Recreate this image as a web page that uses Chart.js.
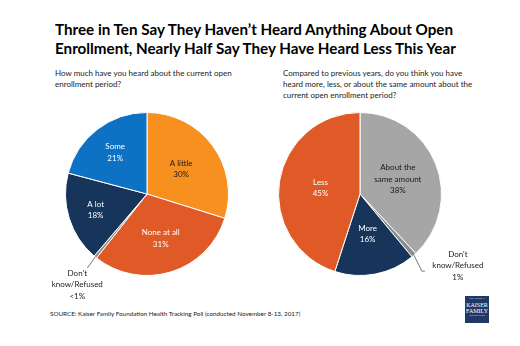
<!DOCTYPE html>
<html>
<head>
<meta charset="utf-8">
<script src="https://cdn.jsdelivr.net/npm/chart.js@4.4.1/dist/chart.umd.min.js"></script>
<style>
  html, body { margin: 0; padding: 0; background: #fff; }
  #wrap { position: relative; width: 520px; height: 346px; overflow: hidden; font-family: Lato, sans-serif; color: #1a1a1a; }
  .title { position: absolute; left: 55px; top: 20px; font-size: 15.2px; font-weight: bold; line-height: 19px; color: #000; white-space: nowrap; }
  .sub { position: absolute; top: 68px; font-size: 8px; line-height: 11px; color: #222; white-space: nowrap; }
  .source { position: absolute; left: 50px; top: 310px; font-size: 6.3px; color: #222; white-space: nowrap; }
  .logo { position: absolute; left: 465px; top: 296px; width: 24px; height: 27px; background: #1f3866; color: #fff; font-family: "Liberation Serif", serif; text-align: center; }
  .logo div { line-height: 1; }
  canvas { position: absolute; }
</style>
</head>
<body>
<div id="wrap">
  <div class="title">Three in Ten Say They Haven’t Heard Anything About Open<br>Enrollment, Nearly Half Say They Have Heard Less This Year</div>
  <div class="sub" style="left:55px">How much have you heard about the current open<br>enrollment period?</div>
  <div class="sub" style="left:283px">Compared to previous years, do you think you have<br>heard more, less, or about the same amount about the<br>current open enrollment period?</div>
  <div class="source">SOURCE: Kaiser Family Foundation Health Tracking Poll (conducted November 8-13, 2017)</div>
  <div class="logo">
    <div style="font-size:2.5px;padding-top:2px">THE HENRY J.</div>
    <div style="font-size:6px;margin-top:1px">KAISER</div>
    <div style="font-size:6px">FAMILY</div>
    <div style="font-size:2.5px;margin-top:1px">FOUNDATION</div>
  </div>
  <div style="position:absolute;left:0;top:100px;width:260px;height:210px"><canvas id="left"></canvas></div>
  <div style="position:absolute;left:260px;top:100px;width:260px;height:210px"><canvas id="right"></canvas></div>
</div>
<script>
// left pie: how much heard
const heardLabels = ['A little', 'None at all', "Don't know/Refused", 'A lot', 'Some'];
const heardShown = [['A little', '30%'], ['None at all', '31%'], ["Don't", 'know/Refused', '<1%'], ['A lot', '18%'], ['Some', '21%']];
const heardValues = [30, 31, 0.6, 18, 21];

// right pie: compared to previous years
const compLabels = ['About the same amount', "Don't know/Refused", 'More', 'Less'];
const compShown = [['About the', 'same amount', '38%'], ["Don't", 'know/Refused', '1%'], ['More', '16%'], ['Less', '45%']];
const compValues = [38, 1, 16, 45];

const sliceLabels = {
  id: 'sliceLabels',
  afterDatasetsDraw(chart, args, opts) {
    const ctx = chart.ctx;
    const meta = chart.getDatasetMeta(0);
    ctx.save();
    ctx.font = '8px Lato, sans-serif';
    ctx.textAlign = 'center';
    ctx.textBaseline = 'middle';
    meta.data.forEach((arc, i) => {
      const p = arc.getProps(['x', 'y', 'startAngle', 'endAngle', 'outerRadius']);
      const mid = (p.startAngle + p.endAngle) / 2;
      const lines = opts.text[i];
      if (opts.outside === i) {
        const ex = p.x + Math.cos(mid) * p.outerRadius;
        const ey = p.y + Math.sin(mid) * p.outerRadius;
        const o = opts.leader;
        ctx.strokeStyle = '#555';
        ctx.lineWidth = 0.8;
        ctx.beginPath();
        ctx.moveTo(ex, ey);
        ctx.lineTo(ex + o[0], ey + o[1]);
        if (o[4]) ctx.lineTo(ex + o[0] + o[4], ey + o[1]);
        ctx.stroke();
        ctx.fillStyle = '#222';
        lines.forEach((t, k) => ctx.fillText(t, ex + o[2], ey + o[3] + k * 11.5));
        return;
      }
      const r = p.outerRadius * opts.factor[i];
      const cx = p.x + Math.cos(mid) * r;
      const cy = p.y + Math.sin(mid) * r;
      ctx.fillStyle = opts.colors[i];
      const h = (lines.length - 1) * 11.5;
      lines.forEach((t, k) => ctx.fillText(t, cx, cy - h / 2 + k * 11.5));
    });
    ctx.restore();
  }
};

function makePie(id, labels, values, colors, pad, labelOpts) {
  return new Chart(document.getElementById(id), {
    type: 'pie',
    data: {
      labels: labels,
      datasets: [{
        data: values,
        backgroundColor: colors,
        borderColor: '#ffffff',
        borderWidth: 1
      }]
    },
    options: {
      responsive: true,
      maintainAspectRatio: false,
      animation: false,
      layout: { padding: pad },
      plugins: {
        legend: { display: false },
        tooltip: { enabled: false },
        sliceLabels: labelOpts
      }
    },
    plugins: [sliceLabels]
  });
}

makePie('left', heardLabels, heardValues,
  ['#f7901e', '#e05a27', '#8c8c8c', '#17345b', '#0e72c4'],
  { left: 65, right: 31, top: 12, bottom: 34 },
  {
    text: heardShown,
    colors: ['#1a1a1a', '#ffffff', '#222', '#ffffff', '#ffffff'],
    factor: [0.52, 0.57, 1, 0.66, 0.64],
    outside: 2,
    leader: [-8, 11, -18, 16, 0]
  });

makePie('right', compLabels, compValues,
  ['#a6a6a6', '#8c8c8c', '#17345b', '#e05a27'],
  { left: 18, right: 78, top: 12, bottom: 34 },
  {
    text: compShown,
    colors: ['#1a1a1a', '#222', '#ffffff', '#ffffff'],
    factor: [0.5, 1, 0.5, 0.49],
    outside: 1,
    leader: [8, 16, 44, -1, 3]
  });
</script>
</body>
</html>
